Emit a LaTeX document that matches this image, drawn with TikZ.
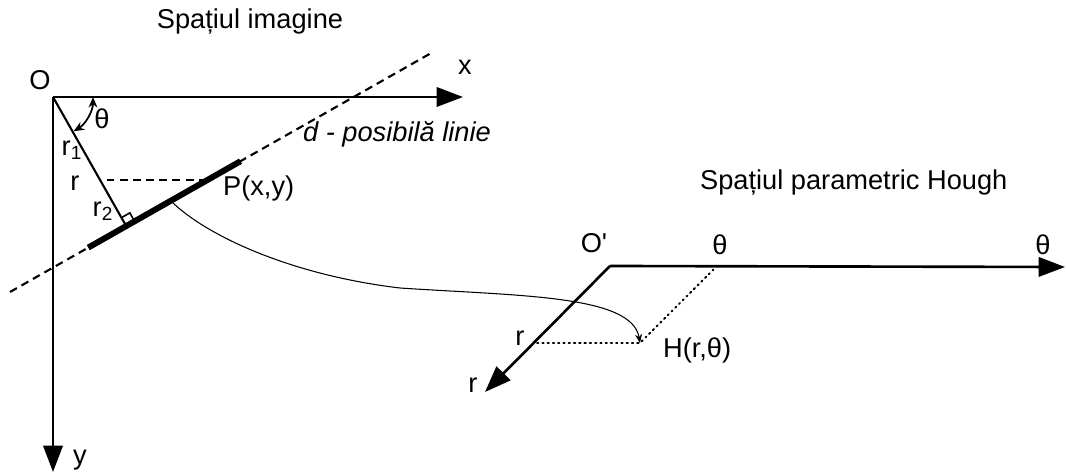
\documentclass[tikz,border=0pt]{standalone}
\usepackage{fontspec}
\setmainfont{Liberation Sans}
\usepackage{tikz}
\usetikzlibrary{
  arrows.meta,
  calc
}

\begin{document}
\begin{tikzpicture}[
  x=0.02cm,y=-0.02cm,
  font=\fontsize{15.5}{18}\selectfont,
  axis/.style={line width=1.5pt,-{Triangle[length=15pt,width=11pt]}},
  guide/.style={line width=1.2pt,dash pattern=on 4.5pt off 3pt},
  helper/.style={line width=1.1pt,dash pattern=on 0.8pt off 2.2pt,line cap=round},
  lbl/.style={inner sep=1pt}
]
\useasboundingbox (0,0) rectangle (1066,472);

% Image space: axes, candidate line d and its normal.
\coordinate (O) at (53,97);
\coordinate (xend) at (463,97);
\coordinate (yend) at (53,472);
\coordinate (dA) at (10,292);
\coordinate (dB) at (433,52);
\coordinate (F) at ($(dA)!(O)!(dB)$);
\coordinate (tA) at ($(dA)!0.185!(dB)$);
\coordinate (tB) at ($(dA)!0.545!(dB)$);
\coordinate (P) at ($(dA)!0.465!(dB)$);
\coordinate (Q) at ($(O)!0.64!(F)$);
\coordinate (S) at ($(dA)!0.38!(dB)$);

\node[lbl] (imgtitle) at (250,22) {Spațiul imagine};
\node[lbl] (Olbl) at (40,80) {O};
\node[lbl] (xlbl) at (465,67) {x};
\node[lbl] (ylbl) at (80,460) {y};

\draw[axis] (O) -- (xend);
\draw[axis] (O) -- (yend);
\draw[guide] (dA) -- (dB);
\draw[line width=3.4pt] (tA) -- (tB);
\draw[line width=1.2pt] (O) -- (F);
\draw[guide] (P) -- (P -| Q);

% right angle at the foot of the normal
\coordinate (ra1) at ($(F)!5.5pt!(O)$);
\coordinate (ra3) at ($(F)!5.5pt!(dB)$);
\draw[line width=0.9pt] (ra1) -- ($(ra1)+(ra3)-(F)$) -- (ra3);

% angle theta between the x axis and the normal
\draw[line width=1pt,{Stealth[length=6pt,width=5pt]}-{Stealth[length=6pt,width=5pt]}]
  ($(O)+(40,0)$) arc[start angle=0,end angle=59,radius=40];
\node[lbl] (thlbl) at (102,119) {θ};

\node[lbl] (r1lbl) at (72,150) {r\textsubscript{1}};
\node[lbl] (rlbl) at (75,183) {r};
\node[lbl] (r2lbl) at (103,211) {r\textsubscript{2}};
\node[lbl,anchor=west] (dlbl) at (301,134) {\itshape d - posibilă linie};
\node[lbl,anchor=west] (Plbl) at (221,188) {P(x,y)};

% Hough parameter space
\coordinate (Op) at (610,266);
\coordinate (thend) at (1065,267);
\coordinate (rend) at (485,392);
\coordinate (T) at (716,267);
\coordinate (H) at (640,343);
\coordinate (R) at (537,343);

\node[lbl,anchor=west] (houghtitle) at (698,183) {Spațiul parametric Hough};
\node[lbl] (Oplbl) at (594,243) {O\textquotesingle};
\node[lbl] (thA) at (720,245) {θ};
\node[lbl] (thB) at (1043,245) {θ};
\node[lbl] (rA) at (520,338) {r};
\node[lbl] (rB) at (473,385) {r};
\node[lbl,anchor=west] (Hlbl) at (661,350) {H(r,θ)};

\draw[axis] (Op) -- (thend);
\draw[axis] (Op) -- (rend);
\draw[helper] (R) -- (H) -- (T);

% mapping of the line onto a point
\draw[line width=0.6pt,-{Stealth[length=5pt,width=4pt]}]
  (S) .. controls (205,235) and (290,275) .. (400,288)
      .. controls (520,296) and (632,295) .. (H);
\end{tikzpicture}
\end{document}
